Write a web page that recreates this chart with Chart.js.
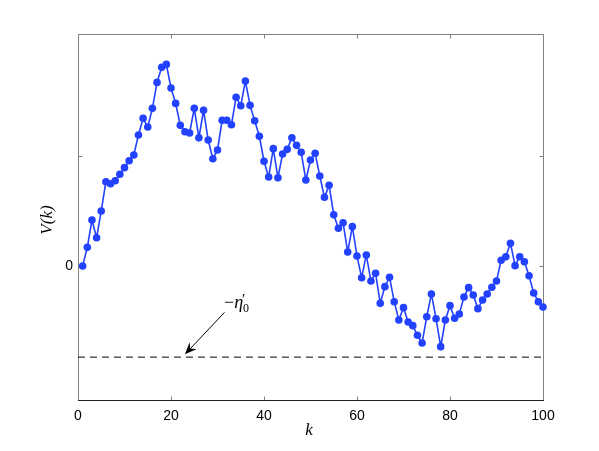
<!DOCTYPE html>
<html><head><meta charset="utf-8">
<script src="https://cdn.jsdelivr.net/npm/chart.js@4"></script>
<style>html,body{margin:0;padding:0;background:#fff}canvas{display:block}</style>
</head><body>
<canvas id="c" width="599" height="451"></canvas>
<script>
// ---- data ----
const kValues = [];
for (let k = 1; k <= 100; k++) kValues.push(k);
const vValues = [
 0.000, 0.169, 0.416, 0.256, 0.498, 0.763, 0.745, 0.772, 0.830, 0.890,
 0.953, 1.005, 1.186, 1.337, 1.258, 1.427, 1.662, 1.798, 1.825, 1.611,
 1.472, 1.273, 1.215, 1.204, 1.427, 1.161, 1.409, 1.140, 0.971, 1.050,
 1.319, 1.319, 1.279, 1.527, 1.451, 1.674, 1.454, 1.315, 1.174, 0.948,
 0.805, 1.062, 0.799, 1.014, 1.056, 1.161, 1.092, 1.029, 0.778, 0.959,
 1.020, 0.814, 0.622, 0.730, 0.464, 0.341, 0.392, 0.127, 0.356, 0.090,
 -0.106, 0.100, -0.136, -0.066, -0.338, -0.187, -0.102, -0.323, -0.489, -0.377,
 -0.507, -0.540, -0.627, -0.697, -0.459, -0.253, -0.477, -0.730, -0.489, -0.359,
 -0.473, -0.434, -0.281, -0.196, -0.262, -0.386, -0.308, -0.253, -0.193, -0.136,
 0.052, 0.084, 0.205, 0.003, 0.084, 0.039, -0.088, -0.244, -0.323, -0.371
];
const thresholdValue = -0.825;          // -eta'_0
const xTickValues = [0, 20, 40, 60, 80, 100];
const yTickValues = [0, 1];
const yTickLabels = ['0', ''];
const xRange = [0, 100];
const yRange = [-1.213, 2.10];
const arrowFrom = [31.5, -0.42];
const arrowTo = [23, -0.80];

// ---- plugin: frame, inward ticks, titles, annotation ----
const decor = {
  id: 'decor',
  beforeDatasetsDraw(chart) {
    const {ctx, chartArea: a, scales: {x, y}} = chart;
    ctx.save();
    ctx.lineWidth = 1;
    ctx.strokeStyle = '#808080';
    const L = Math.round(a.left) + 0.5, R = Math.round(a.right) + 0.5;
    const T = Math.round(a.top) + 0.5, B = Math.round(a.bottom) + 0.5;
    ctx.beginPath();
    ctx.moveTo(L, B); ctx.lineTo(L, T); ctx.lineTo(R, T); ctx.lineTo(R, B);
    xTickValues.forEach(v => {
      const px = Math.round(x.getPixelForValue(v)) + 0.5;
      ctx.moveTo(px, T); ctx.lineTo(px, T + 4);
      ctx.moveTo(px, B); ctx.lineTo(px, B - 4);
    });
    yTickValues.forEach(v => {
      const py = Math.round(y.getPixelForValue(v)) + 0.5;
      ctx.moveTo(L, py); ctx.lineTo(L + 4, py);
      ctx.moveTo(R, py); ctx.lineTo(R - 4, py);
    });
    ctx.stroke();
    ctx.strokeStyle = '#222';
    ctx.beginPath(); ctx.moveTo(L - 0.5, B); ctx.lineTo(R + 0.5, B); ctx.stroke();
    ctx.restore();
  },
  afterDatasetsDraw(chart) {
    const {ctx, scales: {x, y}} = chart;
    ctx.save();
    ctx.fillStyle = '#000';
    // axis titles
    ctx.font = 'italic 17px "Liberation Serif"';
    ctx.textAlign = 'center'; ctx.textBaseline = 'middle';
    ctx.fillText('k', 309, 431);
    ctx.save();
    ctx.translate(48, 220); ctx.rotate(-Math.PI / 2);
    ctx.fillText('V(k)', 0, 0);
    ctx.restore();
    // arrow
    const x0 = x.getPixelForValue(arrowFrom[0]), y0 = y.getPixelForValue(arrowFrom[1]);
    const x1 = x.getPixelForValue(arrowTo[0]), y1 = y.getPixelForValue(arrowTo[1]);
    const ang = Math.atan2(y1 - y0, x1 - x0);
    const len = 12, hw = 5;
    ctx.strokeStyle = '#000'; ctx.lineWidth = 1;
    ctx.beginPath(); ctx.moveTo(x0, y0);
    ctx.lineTo(x1 - Math.cos(ang) * 6, y1 - Math.sin(ang) * 6); ctx.stroke();
    const c = Math.cos(ang), s = Math.sin(ang);
    const bx = x1 - c * len, by = y1 - s * len;
    ctx.beginPath();
    ctx.moveTo(x1, y1);
    ctx.lineTo(bx - s * hw, by + c * hw);
    ctx.lineTo(x1 - c * len * 0.65, y1 - s * len * 0.65);
    ctx.lineTo(bx + s * hw, by - c * hw);
    ctx.closePath(); ctx.fill();
    // label -eta'_0
    ctx.textAlign = 'left'; ctx.textBaseline = 'alphabetic';
    ctx.font = '18px "Liberation Serif"';
    let tx = 224, ty = 308;
    ctx.fillText('\u2212', tx, ty); tx += ctx.measureText('\u2212').width;
    ctx.font = 'italic 18px "Liberation Serif"';
    ctx.fillText('\u03B7', tx, ty); tx += ctx.measureText('\u03B7').width;
    ctx.font = '15px "Liberation Serif"';
    ctx.fillText('\u2032', tx - 1, ty - 4);
    ctx.font = '12px "Liberation Serif"';
    ctx.fillText('0', tx, ty + 4);
    ctx.restore();
  }
};

Chart.defaults.font.family = '"Liberation Sans", Arial, sans-serif';
Chart.defaults.font.size = 14;
Chart.defaults.color = '#000';

new Chart(document.getElementById('c'), {
  type: 'line',
  data: {
    datasets: [
      {
        data: kValues.map((k, i) => ({x: k, y: vValues[i]})),
        borderColor: '#2242ff',
        backgroundColor: '#2242ff',
        borderWidth: 1.6,
        pointRadius: 3.8,
        pointBorderWidth: 0,
        pointBackgroundColor: '#2242ff',
        tension: 0,
        clip: false
      },
      {
        data: [{x: xRange[0], y: thresholdValue}, {x: xRange[1], y: thresholdValue}],
        borderColor: '#000',
        borderWidth: 1,
        borderDash: [7, 5],
        pointRadius: 0,
        tension: 0
      }
    ]
  },
  options: {
    responsive: false,
    animation: false,
    layout: {padding: {top: 34, right: 56, left: 0, bottom: 0}},
    plugins: {legend: {display: false}, tooltip: {enabled: false}},
    scales: {
      x: {
        type: 'linear', min: xRange[0], max: xRange[1],
        afterBuildTicks: s => { s.ticks = xTickValues.map(v => ({value: v})); },
        afterFit: s => { s.height = 51; },
        grid: {display: false, drawTicks: false},
        border: {display: false},
        ticks: {padding: 8, maxRotation: 0, autoSkip: false, callback: v => String(v)}
      },
      y: {
        type: 'linear', min: yRange[0], max: yRange[1],
        afterBuildTicks: s => { s.ticks = yTickValues.map(v => ({value: v})); },
        afterFit: s => { s.width = 78; },
        grid: {display: false, drawTicks: false},
        border: {display: false},
        ticks: {padding: 5, autoSkip: false,
          callback: v => { const i = yTickValues.indexOf(v); return i >= 0 ? yTickLabels[i] : ''; }}
      }
    }
  },
  plugins: [decor]
});
</script>
</body></html>
